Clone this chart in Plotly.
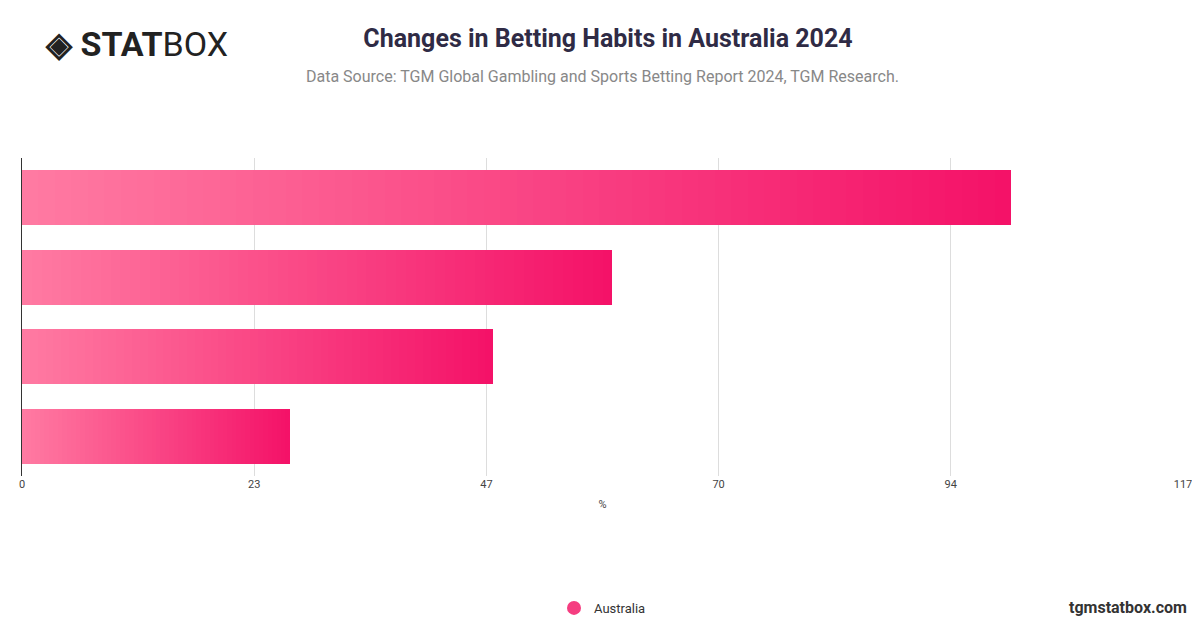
import plotly.graph_objects as go

categories = ["Category A", "Category B", "Category C", "Category D"]
values = [99.7, 59.5, 47.5, 27.0]
tick_vals = [0, 23.4, 46.8, 70.2, 93.6, 117]
tick_text = ["0", "23", "47", "70", "94", "117"]

c0 = (255, 122, 162)
c1 = (244, 18, 104)
N = 60
fig = go.Figure()
for i in range(N):
    t = i / (N - 1)
    col = "rgb(%d,%d,%d)" % tuple(round(a + (b - a) * t) for a, b in zip(c0, c1))
    fig.add_trace(go.Bar(y=categories, x=[v / N for v in values], orientation="h",
                         marker=dict(color=col, line=dict(width=0)), showlegend=False,
                         hoverinfo="skip"))
fig.add_trace(go.Scatter(x=[None], y=[None], mode="markers", name="Australia",
                         marker=dict(size=14, color="#f53d80")))
fig.update_layout(
    width=1200, height=628, barmode="stack", bargap=0.31,
    plot_bgcolor="white", paper_bgcolor="white",
    margin=dict(l=14, r=25, t=150, b=160, autoexpand=False),
    font=dict(family="Roboto", color="#444"),
    title=dict(text="<b>Changes in Betting Habits in Australia 2024</b>", x=0.5, y=0.965,
               xanchor="center", yanchor="top", font=dict(size=25, color="#2f2b45")),
    legend=dict(orientation="h", x=0.5, xanchor="center", y=-0.415, yanchor="middle",
                font=dict(size=13, color="#333")),
    xaxis=dict(range=[0, 117], tickvals=tick_vals, ticktext=tick_text, showgrid=True,
               gridcolor="#dddddd", zeroline=False, tickfont=dict(size=11, color="#444"),
               title=dict(text="%", font=dict(size=11), standoff=10), ticks=""),
    yaxis=dict(categoryorder="array", categoryarray=categories[::-1], showticklabels=False,
               showline=True, linecolor="#333", linewidth=1),
)
fig.add_annotation(text="Data Source: TGM Global Gambling and Sports Betting Report 2024, TGM Research.",
                   xref="paper", yref="paper", x=0.5, y=1.255, yanchor="middle", showarrow=False,
                   font=dict(size=16, color="#888"))
fig.add_annotation(text="<b>◈ STAT</b>BOX", xref="paper", yref="paper", x=0.018, y=1.36,
                   xanchor="left", yanchor="middle", showarrow=False,
                   font=dict(size=34, color="#222", family="Roboto"))
fig.add_annotation(text="<b>tgmstatbox.com</b>", xref="paper", yref="paper", x=1.005, y=-0.415,
                   xanchor="right", yanchor="middle", showarrow=False, font=dict(size=16, color="#333"))
fig.write_html("out.html")
